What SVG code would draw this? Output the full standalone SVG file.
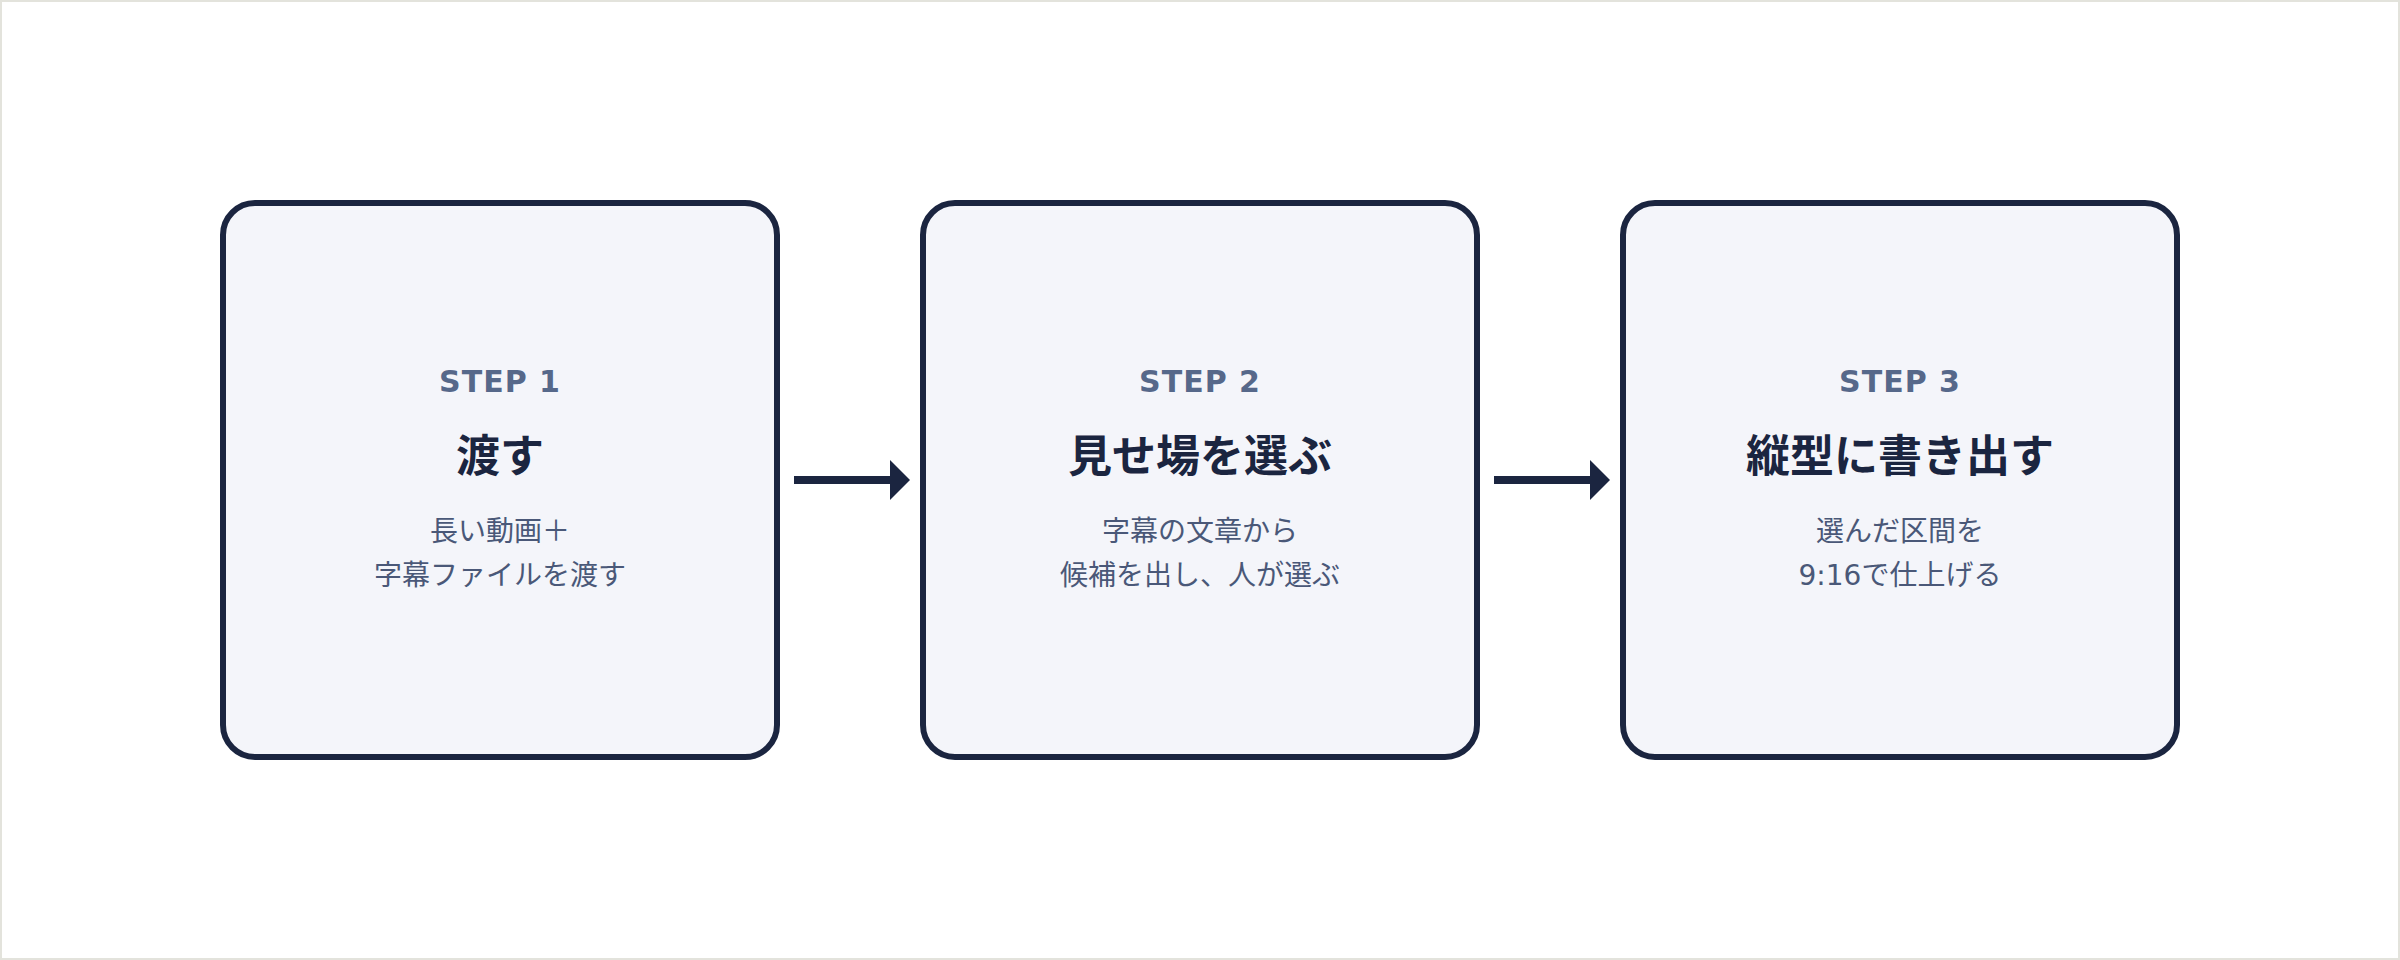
<svg xmlns="http://www.w3.org/2000/svg" width="2400" height="960" viewBox="0 0 2400 960">
<defs>
<style>
.box{fill:#f4f5fa;stroke:#1b2540;stroke-width:6}
.step{font-family:"DejaVu Sans","Noto Sans CJK JP",sans-serif;font-weight:bold;font-size:30px;fill:#56688a;letter-spacing:1px;text-anchor:middle}
.title{font-family:"Noto Sans CJK JP","DejaVu Sans",sans-serif;font-weight:bold;font-size:44px;fill:#1b2540;text-anchor:middle}
.desc{font-family:"DejaVu Sans","Noto Sans CJK JP",sans-serif;font-size:28px;fill:#4a5878;text-anchor:middle}
.conn{stroke:#1b2540;stroke-width:8;fill:none}
</style>
<marker id="ah" markerUnits="userSpaceOnUse" markerWidth="20" markerHeight="40" refX="0" refY="20" orient="auto" viewBox="0 0 20 40">
<path d="M0,0 L20,20 L0,40 Z" fill="#1b2540"/>
</marker>
</defs>
<rect x="1" y="1" width="2398" height="958" fill="#ffffff" stroke="#e3e3dc" stroke-width="2"/>
<g id="step1">
<rect class="box" x="223" y="203" width="554" height="554" rx="32"/>
<text class="step" x="500" y="392">STEP 1</text>
<text class="title" x="500" y="472">渡す</text>
<text class="desc" x="500" y="541">長い動画＋</text>
<text class="desc" x="500" y="585">字幕ファイルを渡す</text>
</g>
<g id="step2">
<rect class="box" x="923" y="203" width="554" height="554" rx="32"/>
<text class="step" x="1200" y="392">STEP 2</text>
<text class="title" x="1200" y="472">見せ場を選ぶ</text>
<text class="desc" x="1200" y="541">字幕の文章から</text>
<text class="desc" x="1200" y="585">候補を出し、人が選ぶ</text>
</g>
<g id="step3">
<rect class="box" x="1623" y="203" width="554" height="554" rx="32"/>
<text class="step" x="1900" y="392">STEP 3</text>
<text class="title" x="1900" y="472">縦型に書き出す</text>
<text class="desc" x="1900" y="541">選んだ区間を</text>
<text class="desc" x="1900" y="585">9:16で仕上げる</text>
</g>
<g id="connectors">
<line class="conn" x1="794" y1="480" x2="890" y2="480" marker-end="url(#ah)"/>
<line class="conn" x1="1494" y1="480" x2="1590" y2="480" marker-end="url(#ah)"/>
</g>
</svg>
